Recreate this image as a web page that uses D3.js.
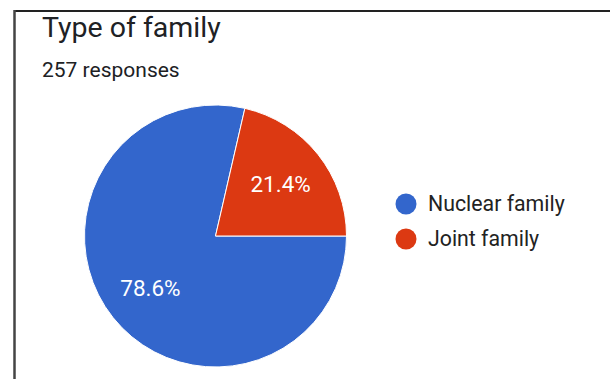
<!DOCTYPE html>
<html>
<head>
<meta charset="utf-8">
<script src="https://cdn.jsdelivr.net/npm/d3@7"></script>
<style>
  html, body { margin: 0; padding: 0; background: #fff; }
  svg { display: block; font-family: Roboto, "Noto Sans", Arial, sans-serif; }
</style>
</head>
<body>
<svg id="chart" width="610" height="379"></svg>
<script>
// Survey answers for "Type of family"
const title = "Type of family";
const subtitle = "257 responses";
const categories = ["Nuclear family", "Joint family"];
const shares = [78.6, 21.4];
const colors = ["#3366cc", "#dc3912"];

const svg = d3.select("#chart");

// card frame (top and left edges)
svg.append("line").attr("x1", 14).attr("x2", 610).attr("y1", 11).attr("y2", 11)
  .attr("stroke", "#222").attr("stroke-width", 2);
svg.append("line").attr("x1", 14.5).attr("x2", 14.5).attr("y1", 10).attr("y2", 379)
  .attr("stroke", "#444").attr("stroke-width", 2.5);

svg.append("text").attr("x", 42).attr("y", 37)
  .attr("font-size", 28.5).attr("fill", "#202124").text(title);
svg.append("text").attr("x", 42).attr("y", 77)
  .attr("font-size", 21).attr("fill", "#202124").text(subtitle);

const cx = 215.5, cy = 236, r = 131;

const pie = d3.pie().sort(null).value(d => d)
  .startAngle(Math.PI / 2).endAngle(Math.PI / 2 + 2 * Math.PI);
const arcs = pie(shares);
const arc = d3.arc().innerRadius(0).outerRadius(r);
const labelArc = d3.arc().innerRadius(r * 0.635).outerRadius(r * 0.635);

const g = svg.append("g").attr("transform", `translate(${cx},${cy})`);
g.selectAll("path").data(arcs).join("path")
  .attr("d", arc)
  .attr("fill", (d, i) => colors[i])
  .attr("stroke", "#fff").attr("stroke-width", 1);

g.selectAll("text.lbl").data(arcs).join("text")
  .attr("class", "lbl")
  .attr("transform", d => `translate(${labelArc.centroid(d)})`)
  .attr("text-anchor", "middle").attr("dy", "0.35em")
  .attr("font-size", 22.5).attr("fill", "#fff")
  .text(d => d.value.toFixed(1) + "%");

// legend
const legend = svg.append("g").attr("transform", "translate(406,204)");
const items = legend.selectAll("g").data(categories).join("g")
  .attr("transform", (d, i) => `translate(0,${i * 35})`);
items.append("circle").attr("r", 10.5).attr("fill", (d, i) => colors[i]);
items.append("text").attr("x", 22).attr("dy", "0.35em")
  .attr("font-size", 21.3).attr("fill", "#222").text(d => d);
</script>
</body>
</html>
